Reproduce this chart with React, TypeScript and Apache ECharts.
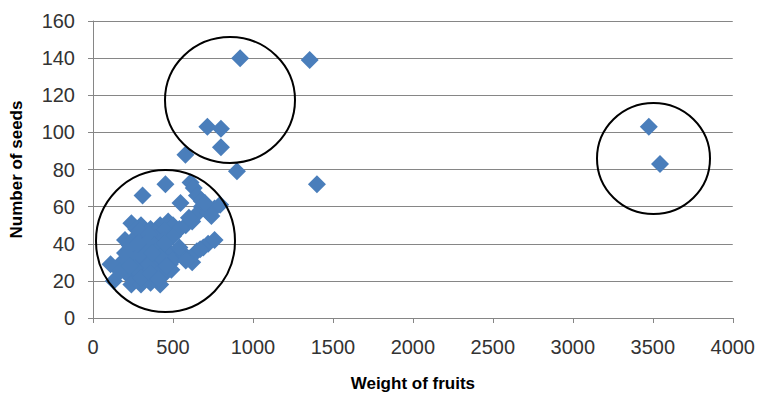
import React, { useEffect, useRef } from "react";
import * as echarts from "echarts";

const xTicks = { min: 0, max: 4000, interval: 500 };
const yTicks = { min: 0, max: 160, interval: 20 };
const xTitle = "Weight of fruits";
const yTitle = "Number of seeds";

// [weight, seeds]
const outliers: number[][] = [
  [920, 140], [1355, 139], [715, 103], [800, 102], [800, 92], [578, 88],
  [900, 79], [1400, 72], [453, 72], [610, 73], [3475, 103], [3545, 83],
  [310, 66], [547, 62],
];
const clusterTop: number[][] = [
  [240, 51], [300, 50], [360, 48], [420, 50], [470, 52], [500, 50],
  [540, 48], [580, 50], [620, 52], [650, 56], [680, 60], [720, 57],
  [760, 59], [795, 61], [630, 70], [650, 66], [680, 63], [700, 62], [740, 55],
  [270, 48], [390, 46], [450, 47], [520, 46], [600, 54],
];
const clusterMain: number[][] = [
  [200, 42], [260, 43], [330, 42], [390, 43], [440, 42], [500, 44],
  [220, 36], [290, 37], [350, 36], [410, 37], [470, 36],
  [180, 30], [250, 30], [310, 31], [370, 30], [430, 31], [480, 29],
  [210, 24], [270, 24], [330, 25], [390, 24], [450, 24], [490, 26],
  [240, 18], [300, 18], [360, 19], [420, 18], [290, 47], [350, 45],
  [110, 29], [130, 20], [170, 25], [400, 27], [320, 34],
  [230, 39], [280, 33], [340, 28], [380, 39], [420, 33], [460, 28],
  [260, 27], [300, 22], [360, 24], [410, 21], [330, 40], [280, 40],
  [230, 28], [200, 35], [450, 40], [370, 35],
];
const clusterLow: number[][] = [
  [520, 33], [560, 35], [600, 32], [620, 30], [650, 36], [690, 38],
  [720, 40], [760, 42], [540, 38], [580, 31], [670, 37],
];

const allPoints = [...outliers, ...clusterTop, ...clusterMain, ...clusterLow];

export default function App() {
  const ref = useRef<HTMLDivElement>(null);
  useEffect(() => {
    if (!ref.current) return;
    const chart = echarts.init(ref.current, undefined, { renderer: "svg" });
    const font = "Liberation Sans";
    chart.setOption({
      animation: false,
      backgroundColor: "#ffffff",
      grid: { left: 92, right: 22, top: 21, bottom: 74, containLabel: false },
      xAxis: {
        type: "value",
        min: xTicks.min,
        max: xTicks.max,
        interval: xTicks.interval,
        name: xTitle,
        nameLocation: "middle",
        nameGap: 57,
        nameTextStyle: { fontFamily: font, fontSize: 17, fontWeight: "bold", color: "#000" },
        axisLine: { show: true, lineStyle: { color: "#868686", width: 1 } },
        axisTick: { show: true, length: 5, lineStyle: { color: "#868686" } },
        axisLabel: {
          fontFamily: font,
          fontSize: 20,
          color: "#333",
          margin: 19,
          formatter: (v: number) => String(v),
        },
        splitLine: { show: false },
      },
      yAxis: {
        type: "value",
        min: yTicks.min,
        max: yTicks.max,
        interval: yTicks.interval,
        name: yTitle,
        nameLocation: "middle",
        nameRotate: 90,
        nameGap: 68,
        nameTextStyle: { fontFamily: font, fontSize: 17, fontWeight: "bold", color: "#000" },
        axisLine: { show: true, lineStyle: { color: "#868686", width: 1 } },
        axisTick: { show: true, length: 5, lineStyle: { color: "#868686" } },
        axisLabel: {
          fontFamily: font,
          fontSize: 20,
          color: "#333",
          margin: 18,
          formatter: (v: number) => String(v),
        },
        splitLine: { show: true, lineStyle: { color: "#868686", width: 1 } },
      },
      series: [
        {
          type: "scatter",
          data: allPoints,
          symbol: "diamond",
          symbolSize: 18,
          itemStyle: { color: "#4a7ebb", opacity: 1 },
        },
      ],
      graphic: [
        {
          type: "ellipse",
          shape: { cx: 165.5, cy: 241, rx: 69.5, ry: 71 },
          style: { fill: "none", stroke: "#000", lineWidth: 2 },
          z: 100,
        },
        {
          type: "ellipse",
          shape: { cx: 230, cy: 100, rx: 65, ry: 63 },
          style: { fill: "none", stroke: "#000", lineWidth: 2 },
          z: 100,
        },
        {
          type: "ellipse",
          shape: { cx: 653.5, cy: 158.5, rx: 56.5, ry: 55.5 },
          style: { fill: "none", stroke: "#000", lineWidth: 2 },
          z: 100,
        },
      ],
    });
    return () => chart.dispose();
  }, []);
  return (
    <div
      ref={ref}
      style={{ position: "absolute", left: 0, top: 0, width: 758, height: 397 }}
    />
  );
}
